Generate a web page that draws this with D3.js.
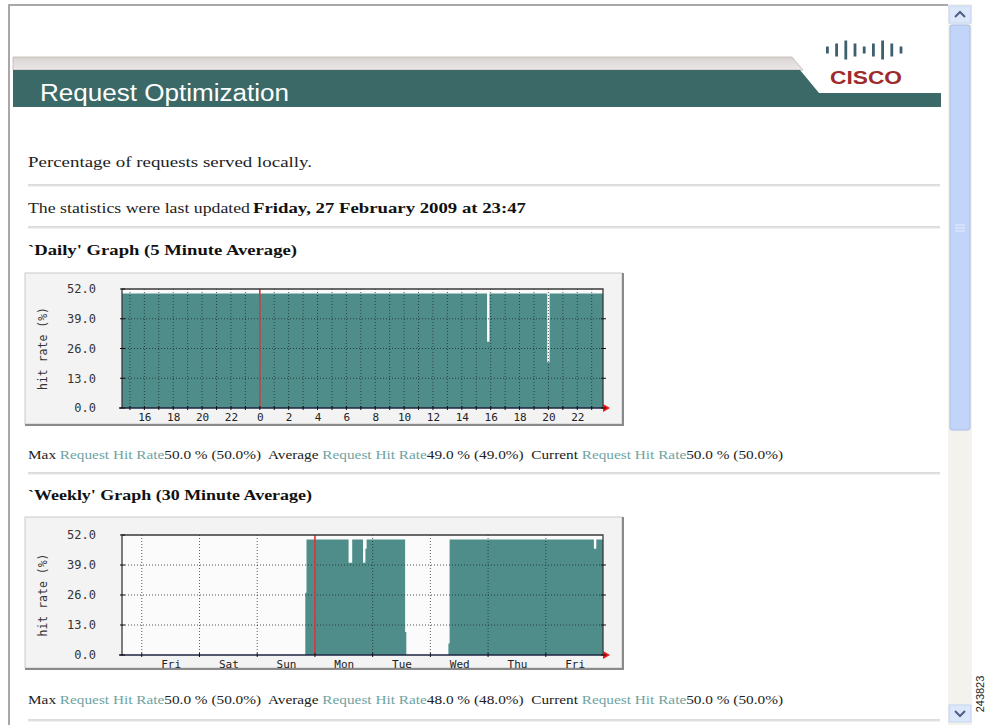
<!DOCTYPE html>
<html><head><meta charset="utf-8">
<script src="https://cdn.jsdelivr.net/npm/d3@7"></script>
<style>body{margin:0;background:#fff;overflow:hidden}svg{display:block}</style>
</head><body>
<svg id="c" width="987" height="725"></svg>
<script>
// ---------- DATA ----------
const dailyTimes = ["2009-02-26T14:27","2009-02-27T15:45","2009-02-27T15:55","2009-02-27T19:55","2009-02-27T20:05","2009-02-27T23:47"];
const dailyRates = [50, 29, 50, 20, 50, 50];
const weeklyTimes = ["2009-02-19T15:47","2009-02-22T20:00","2009-02-22T20:30","2009-02-23T14:00","2009-02-23T15:30",
  "2009-02-23T20:00","2009-02-23T21:00","2009-02-23T21:30","2009-02-24T13:30","2009-02-24T14:00",
  "2009-02-25T07:30","2009-02-25T08:00","2009-02-27T20:00","2009-02-27T21:00","2009-02-27T23:47"];
const weeklyRates = [0, 27, 50, 40, 50, 40, 46, 50, 10, 0, 5, 50, 46, 50, 50];
const yTicks = [0, 13, 26, 39, 52];
const hourLabels = ["16","18","20","22","0","2","4","6","8","10","12","14","16","18","20","22"];
const dayLabels = ["Fri","Sat","Sun","Mon","Tue","Wed","Thu","Fri"];
const statNames = ["Max","Average","Current"];
const dailyStats = ["50.0 % (50.0%)","49.0 % (49.0%)","50.0 % (50.0%)"];
const weeklyStats = ["50.0 % (50.0%)","48.0 % (48.0%)","50.0 % (50.0%)"];
const ciscoBars = [1,2,3,2,1,2,3,2,1];

const parse = d3.timeParse("%Y-%m-%dT%H:%M");
const svg = d3.select("#c");
const SERIF = "'Liberation Serif','Times New Roman',serif";
const MONO = "'DejaVu Sans Mono',monospace";
const SANS = "'Liberation Sans',Arial,sans-serif";
const TEAL = "#3b6967", FILL = "#4f8d8a", LINK = "#6fa3a2";

// ---------- window frame & scrollbar ----------
svg.append("line").attr("x1",8).attr("x2",948).attr("y1",5).attr("y2",5).attr("stroke","#a8a8a8").attr("stroke-width",2);
svg.append("line").attr("x1",9).attr("x2",9).attr("y1",4).attr("y2",725).attr("stroke","#a8a8a8").attr("stroke-width",2);
svg.append("rect").attr("x",948).attr("y",4).attr("width",24).attr("height",721).attr("fill","#f3f2ec");
svg.append("rect").attr("x",949).attr("y",6).attr("width",22).attr("height",17).attr("fill","#dce7fb").attr("stroke","#c3d3f2");
svg.append("path").attr("d","M955,17 L960,12 L965,17").attr("fill","none").attr("stroke","#4d6185").attr("stroke-width",2);
svg.append("rect").attr("x",950).attr("y",25).attr("width",20).attr("height",405).attr("rx",2).attr("fill","#c2d4f7").attr("stroke","#aabde8");
[225,228,231].forEach(yy=>svg.append("line").attr("x1",955).attr("x2",965).attr("y1",yy).attr("y2",yy).attr("stroke","#e6eefc"));
svg.append("rect").attr("x",949).attr("y",705).attr("width",22).attr("height",17).attr("fill","#dce7fb").attr("stroke","#c3d3f2");
svg.append("path").attr("d","M955,711 L960,716 L965,711").attr("fill","none").attr("stroke","#4d6185").attr("stroke-width",2);
svg.append("text").attr("transform","translate(984,694) rotate(-90)").attr("text-anchor","middle")
  .attr("font-family",SANS).attr("font-size",11).attr("fill","#222").text("243823");

// ---------- banner ----------
const gg = svg.append("defs").append("linearGradient").attr("id","gs").attr("x1",0).attr("x2",0).attr("y1",0).attr("y2",1);
gg.append("stop").attr("offset","0").attr("stop-color","#d9d4d2");
gg.append("stop").attr("offset","1").attr("stop-color","#ebe8e8");
svg.append("path").attr("d","M13,57 L792,57 L803,70 L13,70 Z").attr("fill","url(#gs)").attr("stroke","#bdb6b0").attr("stroke-width",0.8);
svg.append("path").attr("d","M13,70 L800,70 L819,93 L941,93 L941,107 L13,107 Z").attr("fill",TEAL);
svg.append("text").attr("x",40).attr("y",101).attr("font-family",SANS).attr("font-size",23).attr("fill","#fff")
  .attr("textLength",249).attr("lengthAdjust","spacingAndGlyphs").text("Request Optimization");
// cisco logo
const barUnit = 3.4;
ciscoBars.forEach((h,i)=>{
  const hh = h*6+1;
  svg.append("rect").attr("x",826+i*9.2).attr("y",50-hh/2).attr("width",2.8).attr("height",hh).attr("fill","#3d5f6e");
});
svg.append("text").attr("x",866).attr("y",84).attr("text-anchor","middle").attr("font-family",SANS).attr("font-weight","bold")
  .attr("font-size",18).attr("fill","#9e2a2b").attr("textLength",72).attr("lengthAdjust","spacingAndGlyphs").text("CISCO");

// ---------- texts ----------
function hr(y){
  svg.append("line").attr("x1",28).attr("x2",940).attr("y1",y).attr("y2",y).attr("stroke","#b9b9b9").attr("stroke-width",1);
  svg.append("line").attr("x1",28).attr("x2",940).attr("y1",y+1).attr("y2",y+1).attr("stroke","#e4e4e4").attr("stroke-width",1);
}
svg.append("text").attr("x",28).attr("y",167).attr("font-family",SERIF).attr("font-size",15).attr("fill","#222")
  .attr("textLength",284).attr("lengthAdjust","spacingAndGlyphs").text("Percentage of requests served locally.");
hr(185);
svg.append("text").attr("x",28).attr("y",213).attr("font-family",SERIF).attr("font-size",15).attr("fill","#222")
  .attr("textLength",222).attr("lengthAdjust","spacingAndGlyphs").text("The statistics were last updated");
svg.append("text").attr("x",253).attr("y",213).attr("font-family",SERIF).attr("font-size",15).attr("font-weight","bold").attr("fill","#111")
  .attr("textLength",273).attr("lengthAdjust","spacingAndGlyphs").text("Friday, 27 February 2009 at 23:47");
hr(227);
svg.append("text").attr("x",28).attr("y",255).attr("font-family",SERIF).attr("font-size",15).attr("font-weight","bold").attr("fill","#111")
  .attr("textLength",269).attr("lengthAdjust","spacingAndGlyphs").text("`Daily' Graph (5 Minute Average)");

function stats(y, vals){
  const t = svg.append("text").attr("x",28).attr("y",y).attr("font-family",SERIF).attr("font-size",12).attr("fill","#222")
    .attr("textLength",755).attr("lengthAdjust","spacingAndGlyphs");
  statNames.forEach((n,i)=>{
    t.append("tspan").text((i? "\u00a0 ":"")+n+" ");
    t.append("tspan").attr("fill",LINK).text("Request Hit Rate");
    t.append("tspan").text(vals[i]);
  });
}
stats(459, dailyStats);
hr(473);
svg.append("text").attr("x",28).attr("y",500).attr("font-family",SERIF).attr("font-size",15).attr("font-weight","bold").attr("fill","#111")
  .attr("textLength",284).attr("lengthAdjust","spacingAndGlyphs").text("`Weekly' Graph (30 Minute Average)");
stats(704, weeklyStats);
hr(720);

// ---------- graphs ----------
function graph(o){
  const g = svg.append("g");
  // frame
  g.append("rect").attr("x",25).attr("y",o.fy).attr("width",597).attr("height",151).attr("fill","#f3f3f3").attr("stroke","#c9c9c9");
  g.append("path").attr("d",`M623,${o.fy} L623,${o.fy+152} L25,${o.fy+152}`).attr("fill","none").attr("stroke","#8a8a8a").attr("stroke-width",2);
  const x = d3.scaleTime().domain(o.domain).range([122,603]);
  const y = d3.scaleLinear().domain([0,52]).range([o.py1,o.py0]);
  g.append("rect").attr("x",122).attr("y",o.py0).attr("width",481).attr("height",o.py1-o.py0).attr("fill","#fbfbfb");
  const data = o.times.map((t,i)=>({t:parse(t), v:o.rates[i]}));
  g.append("path").datum(data).attr("fill",FILL)
    .attr("d", d3.area().x(d=>x(d.t)).y0(y(0)).y1(d=>y(d.v)).curve(d3.curveStepAfter));
  // vertical grid
  g.selectAll(null).data(o.vgrid).join("line").attr("x1",d=>x(d)).attr("x2",d=>x(d)).attr("y1",o.py0).attr("y2",o.py1)
    .attr("stroke","#1e2a2a").attr("stroke-opacity",0.75).attr("stroke-dasharray","1,2");
  // horizontal grid
  g.selectAll(null).data(yTicks.slice(1,4)).join("line").attr("x1",122).attr("x2",603).attr("y1",d=>y(d)).attr("y2",d=>y(d))
    .attr("stroke","#1e2a2a").attr("stroke-opacity",0.8).attr("stroke-dasharray","1,2");
  // red marker
  g.append("line").attr("x1",x(o.red)).attr("x2",x(o.red)).attr("y1",o.py0).attr("y2",o.py1).attr("stroke","#dc3a3a").attr("stroke-width",1.6);
  // box
  g.append("path").attr("d",`M122,${o.py1} L122,${o.py0} L603,${o.py0} L603,${o.py1}`).attr("fill","none").attr("stroke","#3a3a3a").attr("stroke-width",1.3);
  g.append("line").attr("x1",119).attr("x2",604).attr("y1",o.py1).attr("y2",o.py1).attr("stroke","#1c2540").attr("stroke-width",1.6);
  g.append("path").attr("d",`M603,${o.py1-4} L610,${o.py1} L603,${o.py1+4} Z`).attr("fill","#e81818");
  // tick marks
  g.selectAll(null).data(o.vgrid).join("line").attr("x1",d=>x(d)).attr("x2",d=>x(d)).attr("y1",o.py1-2).attr("y2",o.py1+2).attr("stroke","#111");
  g.selectAll(null).data(yTicks).join("line").attr("x1",120).attr("x2",125).attr("y1",d=>y(d)).attr("y2",d=>y(d)).attr("stroke","#111");
  g.selectAll(null).data(yTicks.slice(0,4)).join("line").attr("x1",601).attr("x2",606).attr("y1",d=>y(d)).attr("y2",d=>y(d)).attr("stroke","#111");
  // y axis labels
  const ya = g.append("g").attr("transform","translate(122,0)")
    .call(d3.axisLeft(y).tickValues(yTicks).tickFormat(d3.format(".1f")).tickSize(0).tickPadding(26));
  ya.select(".domain").remove();
  ya.selectAll("text").attr("font-family",MONO).attr("font-size",12).attr("fill","#333");
  // x axis labels
  const xa = g.append("g").attr("transform",`translate(0,${o.py1})`)
    .call(d3.axisBottom(x).tickValues(o.labelTimes).tickFormat((d,i)=>o.labels[i]).tickSize(0).tickPadding(5));
  xa.select(".domain").remove();
  xa.selectAll("text").attr("font-family",MONO).attr("font-size",11).attr("fill","#222");
  // y title
  g.append("text").attr("transform",`translate(47,${(o.py0+o.py1)/2}) rotate(-90)`).attr("text-anchor","middle")
    .attr("font-family",MONO).attr("font-size",11.5).attr("fill","#333").text("hit rate (%)");
}

const dDom = [parse(dailyTimes[0]), parse(dailyTimes[dailyTimes.length-1])];
const dHours = d3.timeHour.range(dDom[0], dDom[1]).filter(d=>d>dDom[0]);
const dLabelTimes = d3.timeHour.every(2).range(dDom[0], dDom[1]).slice(0, hourLabels.length);
graph({fy:273, py0:289, py1:408, domain:dDom, times:dailyTimes, rates:dailyRates,
  vgrid:dHours, red:d3.timeDay.floor(dDom[1]), labelTimes:dLabelTimes, labels:hourLabels});

const wDom = [parse(weeklyTimes[0]), parse(weeklyTimes[weeklyTimes.length-1])];
const wDays = d3.timeDay.range(wDom[0], wDom[1]).filter(d=>d>wDom[0]);
const wLabelTimes = wDays.map(d=>d3.timeHour.offset(d,12)).slice(0, dayLabels.length);
graph({fy:517, py0:535, py1:655, domain:wDom, times:weeklyTimes, rates:weeklyRates,
  vgrid:wDays, red:parse("2009-02-23T00:00"), labelTimes:wLabelTimes, labels:dayLabels});
</script>
</body></html>
